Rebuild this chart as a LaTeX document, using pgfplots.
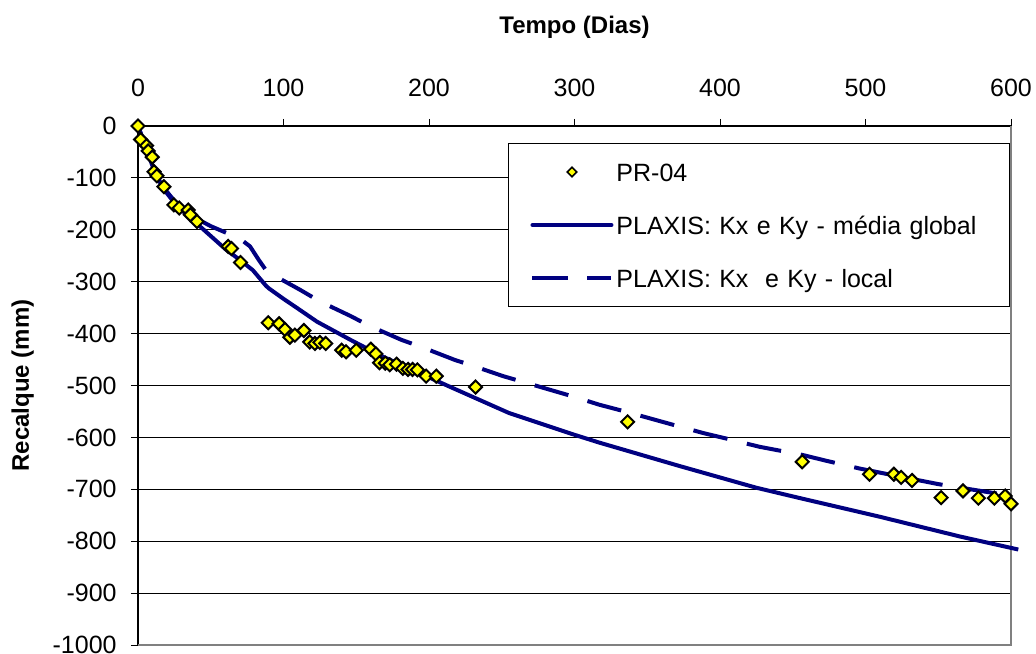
\documentclass[border=0pt]{standalone}
\usepackage{pgfplots}
\pgfplotsset{compat=1.18}
\usepackage{fontspec}
\setmainfont{Liberation Sans}
\definecolor{navyline}{RGB}{0,0,128}
\definecolor{ptyellow}{RGB}{255,255,0}
\newcommand{\lblfont}{\fontsize{12.5}{15}\selectfont}
\newcommand{\ttlfont}{\fontsize{12}{14}\selectfont\bfseries}

\pgfplotsset{
  leglinecode/.style={legend image code/.code={\path[draw=none] (0pt,0pt) -- (51.5pt,0pt); \draw[##1] (12pt,0pt) -- (51.5pt,0pt);}},
  legmarkcode/.style={legend image code/.code={\path[draw=none] (0pt,0pt) -- (51.5pt,0pt); \draw[##1] plot coordinates {(31.75pt,0pt)};}},
}

\pgfplotstableread{
x y
0 0
1.8 -26
5.9 -38
7 -48
9.8 -60
11 -88
13 -96
17.8 -117
24.7 -152
28.3 -158
34.5 -162
36 -171
40.6 -184
62 -232
64.3 -236
70.5 -263
89.5 -379
97 -381
101 -392
104.4 -407
107.8 -403
114 -394
118 -416
121.6 -419
125 -417
129 -419
140 -432
143 -435
150 -432
160 -430
163.5 -439
166 -456
170 -457
173 -460
177.7 -459
182 -467
185.6 -469
188.7 -469
192 -470
198 -482
205 -482
232 -503
336.5 -570
456.5 -647
502.7 -671
519.5 -671
524.5 -677
532 -683
552 -716
567 -703
577.6 -717
588.6 -717
596 -713
600 -728
}\prdata

\pgfplotstableread{
x y
0 0
2 -15
5 -40
8 -62
11 -85
15 -108
20 -130
25 -148
30 -162
40 -187
50 -212
60 -237
70 -258
79 -278
88 -308
90 -313
100 -333
110 -352
123 -377
146 -412
168 -444
191 -473
214 -502
255 -553
300 -595
317 -610
372 -655
425 -697
455 -717
510 -753
565 -791
605 -816
}\globaldata

\pgfplotstableread{
x y
0 0
2 -15
5 -40
8 -62
11 -85
15 -107
20 -127
25 -144
30 -157
40 -178
50 -193
60 -205
70 -217
77 -232
83 -258
88 -278
95 -290
100 -298
111 -315
125 -338
146 -366
159 -385
181 -412
195 -426
218 -451
228 -460
251 -482
300 -522
317 -537
336 -551
372 -579
389 -592
404 -602
427 -618
457 -634
473 -645
496 -660
512 -669
550 -690
590 -708
600 -713
}\localdata

\begin{document}
\begin{tikzpicture}
\begin{axis}[
  at={(0,0)}, anchor=south west,
  scale only axis, width=436.5pt, height=259.5pt,
  xmin=0, xmax=600, ymin=-1000, ymax=0,
  axis x line*=top, axis y line*=left,
  axis line style={black, line width=0.7pt},
  xtick={0,100,...,600}, ytick={-1000,-900,...,0},
  tick align=outside, major tick length=3.5pt,
  tick style={black, line width=0.5pt},
  ymajorgrids, major grid style={black, line width=0.5pt},
  /pgf/number format/assume math mode=true,
  /pgf/number format/1000 sep={},
  tick label style={font=\lblfont},
  xticklabel style={anchor=south, inner sep=0pt},
  xticklabel shift=10.85pt,
  yticklabel style={anchor=east, inner sep=0pt},
  yticklabel shift=7pt,
  xlabel={Tempo (Dias)},
  xlabel style={font=\ttlfont, at={(axis description cs:0.5,1)}, anchor=base, yshift=46.35pt},
  ylabel={Recalque (mm)},
  ylabel style={font=\ttlfont, at={(axis description cs:-0.1249,0.5)}, anchor=base},
  clip=false,
  legend cell align=left,
  legend style={
    at={(axis description cs:0.4238,0.9672)}, anchor=north west,
    draw=black, line width=0.5pt, fill=white,
    inner xsep=0pt, inner ysep=1pt,
    row sep=0pt, column sep=1.5pt,
    font=\lblfont,
    cells={anchor=west},
    nodes={inner sep=0pt, text height=17.75pt, text depth=8.75pt, text width=196.5pt, align=left},
  },
]
\draw[gray, line width=1pt] (rel axis cs:0,0) -- (rel axis cs:1,0) -- (rel axis cs:1,1);

\addlegendimage{only marks, mark=square*, mark size=1.7pt,
  mark options={rotate=45, fill=ptyellow, draw=black, line width=0.8pt, solid}, legmarkcode}
\addlegendentry{PR-04}
\addlegendimage{navyline, line width=2pt, line cap=round, leglinecode}
\addlegendentry{PLAXIS: Kx e Ky - média global}
\addlegendimage{navyline, line width=2pt, line cap=butt, dash pattern=on 18pt off 9.5pt, leglinecode}
\addlegendentry{PLAXIS: Kx\ \ e Ky - local}

\addplot[forget plot, navyline, line width=2pt, line cap=butt, line join=round, dash pattern=on 17.5pt off 10pt] table {\localdata};
\addplot[forget plot, navyline, line width=2pt, line join=round] table {\globaldata};
\addplot[forget plot, only marks, mark=square*, mark size=2.3pt,
  mark options={rotate=45, fill=ptyellow, draw=black, line width=1pt}] table {\prdata};
\end{axis}
\pgfresetboundingbox
\path[use as bounding box] (-69pt,-4pt) rectangle (449pt,322.5pt);
\end{tikzpicture}
\end{document}
